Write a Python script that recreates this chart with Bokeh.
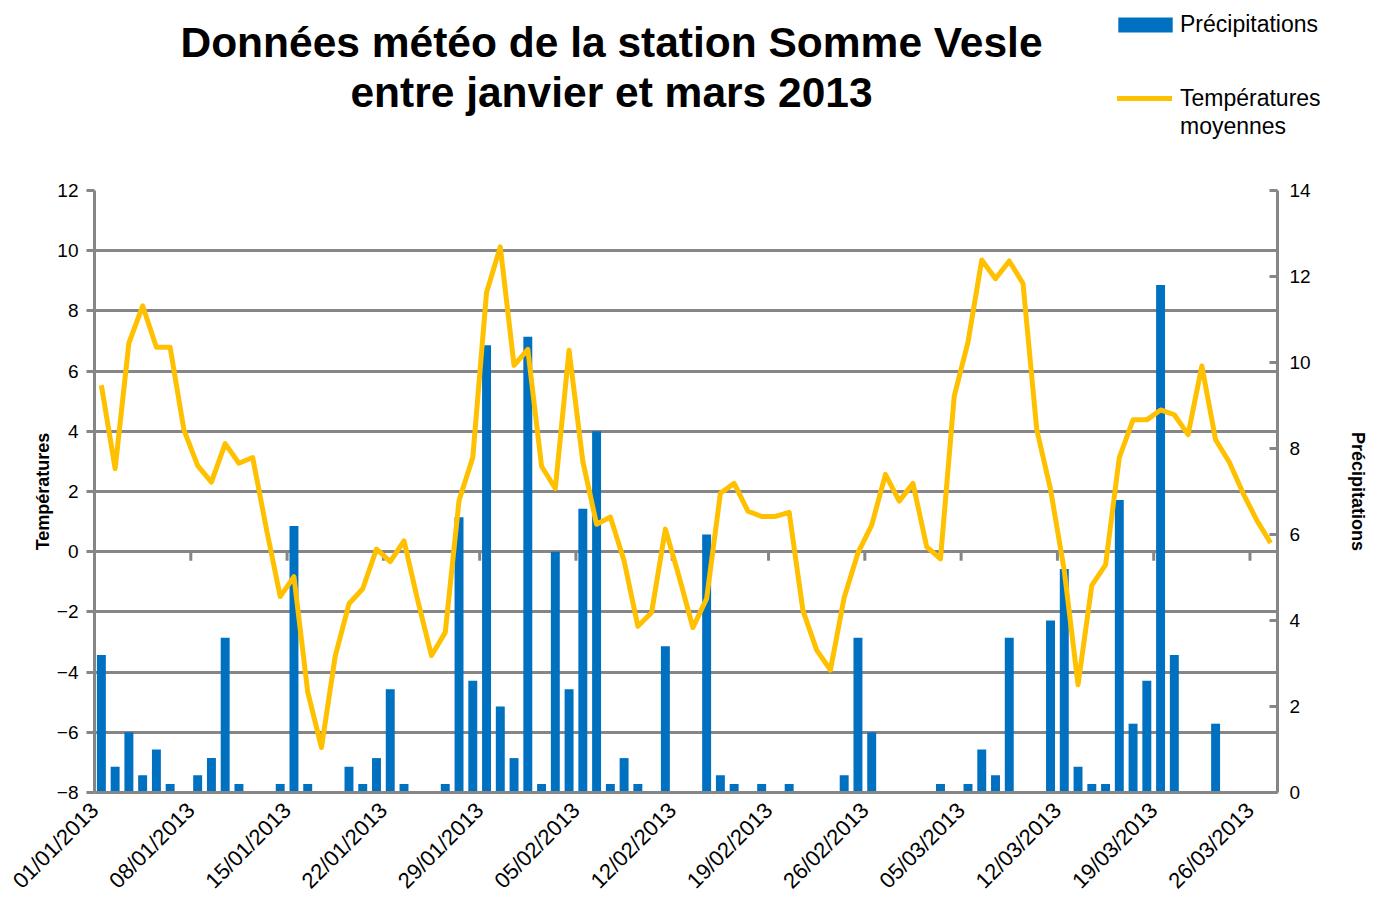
import numpy as np
from math import pi
from bokeh.plotting import figure
from bokeh.models import (Range1d, LinearAxis, FixedTicker, Legend, LegendItem, Label)
from bokeh.embed import file_html
from bokeh.resources import INLINE

# ---------------- data ----------------
title_lines = ["Données météo de la station Somme Vesle",
               "entre janvier et mars 2013"]

tick_labels = ["01/01/2013", "08/01/2013", "15/01/2013", "22/01/2013", "29/01/2013",
               "05/02/2013", "12/02/2013", "19/02/2013", "26/02/2013", "05/03/2013",
               "12/03/2013", "19/03/2013", "26/03/2013"]

# mean temperature per day, 01/01/2013 .. 27/03/2013 (left axis)
temperatures = [5.53, 2.76, 6.93, 8.17, 6.79, 6.79, 4.05, 2.86, 2.31, 3.59,
                2.94, 3.13, 0.75, -1.49, -0.83, -4.66, -6.51, -3.47, -1.73, -1.23,
                0.09, -0.33, 0.36, -1.62, -3.45, -2.68, 1.70, 3.13, 8.61, 10.13,
                6.19, 6.72, 2.84, 2.10, 6.69, 3.00, 0.91, 1.15, -0.30, -2.48,
                -2.02, 0.75, -0.83, -2.52, -1.56, 1.94, 2.27, 1.35, 1.17, 1.17,
                1.31, -1.95, -3.27, -3.93, -1.52, -0.04, 0.88, 2.57, 1.68, 2.27,
                0.16, -0.24, 5.17, 6.96, 9.69, 9.07, 9.66, 8.91, 4.05, 2.07,
                -0.63, -4.42, -1.12, -0.44, 3.13, 4.38, 4.38, 4.71, 4.55, 3.89,
                6.17, 3.72, 2.97, 1.94, 1.04, 0.29]

# daily precipitation (right axis)
precipitations = [3.2, 0.6, 1.4, 0.4, 1.0, 0.2, 0.0, 0.4, 0.8, 3.6,
                  0.2, 0.0, 0.0, 0.2, 6.2, 0.2, 0.0, 0.0, 0.6, 0.2,
                  0.8, 2.4, 0.2, 0.0, 0.0, 0.2, 6.4, 2.6, 10.4, 2.0,
                  0.8, 10.6, 0.2, 5.6, 2.4, 6.6, 8.4, 0.2, 0.8, 0.2,
                  0.0, 3.4, 0.0, 0.0, 6.0, 0.4, 0.2, 0.0, 0.2, 0.0,
                  0.2, 0.0, 0.0, 0.0, 0.4, 3.6, 1.4, 0.0, 0.0, 0.0,
                  0.0, 0.2, 0.0, 0.2, 1.0, 0.4, 3.6, 0.0, 0.0, 4.0,
                  5.2, 0.6, 0.2, 0.2, 6.8, 1.6, 2.6, 11.8, 3.2, 0.0,
                  0.0, 1.6, 0.0, 0.0, 0.0, 0.0]

temp_ticks = list(range(-8, 13, 2))
precip_ticks = list(range(0, 15, 2))
legend_labels = ["Précipitations", "Températures", "moyennes"]

# ---------------- styles ----------------
GREY = "#868686"
BLUE = "#0070C0"
GOLD = "#FFC000"
FONT = "Liberation Sans"
W = 1370
HEAD_H = 170
MAIN_H = 735

n = len(temperatures)
day_centres = np.arange(n) + 0.5
tick_pos = list(range(0, n, 7))

# ---------------- header: title + legend ----------------
head = figure(width=W, height=HEAD_H, output_backend="svg", toolbar_location=None,
              x_range=Range1d(0, W), y_range=Range1d(0, HEAD_H),
              x_axis_type=None, y_axis_type=None, min_border=0)
head.outline_line_color = None
head.grid.visible = False
head.background_fill_color = "white"
head.border_fill_color = "white"
# a range far away from the series values: the legend-key renderers below stay off screen
head.extra_y_ranges = {"keys": Range1d(1000, 1001)}

for txt, yy in zip(title_lines, [128, 78]):
    head.add_layout(Label(x=611, y=yy, text=txt, text_font=FONT,
                          text_font_size="42.5px", text_font_style="bold",
                          text_color="black", text_align="center",
                          text_baseline="middle"))

key_bar = head.vbar(x=day_centres, top=precipitations, width=0.65, fill_color=BLUE,
                    line_color=None, y_range_name="keys")
key_line = head.line(day_centres, temperatures, line_color=GOLD, line_width=5,
                     line_cap="round", y_range_name="keys")
key_blank = head.line(day_centres, temperatures, line_alpha=0, y_range_name="keys")

leg_common = dict(padding=0, margin=0, border_line_color=None, background_fill_alpha=0,
                  label_text_font=FONT, label_text_font_size="23px",
                  label_text_color="black", spacing=0)
leg1 = Legend(items=[LegendItem(label=legend_labels[0], renderers=[key_bar])],
              location=(1111, 132), glyph_width=68, glyph_height=19, label_height=19,
              label_standoff=1, **leg_common)
leg2 = Legend(items=[LegendItem(label=legend_labels[1], renderers=[key_line]),
                     LegendItem(label=legend_labels[2], renderers=[key_blank])],
              location=(1117, 30), glyph_width=55, glyph_height=28, label_height=28,
              label_standoff=8, **leg_common)
head.add_layout(leg1)
head.add_layout(leg2)

# ---------------- main chart ----------------
p = figure(width=W, height=MAIN_H, output_backend="svg", toolbar_location=None,
           x_range=Range1d(0, n), y_range=Range1d(temp_ticks[0], temp_ticks[-1]),
           min_border_left=94, min_border_right=89, min_border_top=20,
           min_border_bottom=113)
p.extra_y_ranges = {"precip": Range1d(precip_ticks[0], precip_ticks[-1])}
p.outline_line_color = None
p.background_fill_color = "white"
p.border_fill_color = "white"

p.xgrid.visible = False
yt = FixedTicker(ticks=temp_ticks)
p.ygrid.ticker = yt
p.ygrid.grid_line_color = GREY
p.ygrid.grid_line_width = 3

yl = p.yaxis[0]
yl.ticker = yt
yl.axis_line_color = GREY
yl.axis_line_width = 3
yl.major_tick_line_color = GREY
yl.major_tick_line_width = 3
yl.major_tick_out = 8
yl.major_tick_in = 0
yl.minor_tick_line_color = None
yl.major_label_text_font = FONT
yl.major_label_text_font_size = "19px"
yl.major_label_text_color = "black"
yl.major_label_standoff = 8
yl.axis_label = "Températures"
yl.axis_label_text_font = FONT
yl.axis_label_text_font_style = "bold"
yl.axis_label_text_font_size = "18px"
yl.axis_label_text_color = "black"
yl.axis_label_standoff = 1

yr = LinearAxis(y_range_name="precip", ticker=FixedTicker(ticks=precip_ticks),
                axis_label="Précipitations")
yr.axis_line_color = GREY
yr.axis_line_width = 3
yr.major_tick_line_color = GREY
yr.major_tick_line_width = 3
yr.major_tick_out = 0
yr.major_tick_in = 8
yr.minor_tick_line_color = None
yr.major_label_text_font = FONT
yr.major_label_text_font_size = "19px"
yr.major_label_text_color = "black"
yr.major_label_standoff = 12
yr.axis_label_text_font = FONT
yr.axis_label_text_font_style = "bold"
yr.axis_label_text_font_size = "18px"
yr.axis_label_text_color = "black"
yr.axis_label_standoff = 34
p.add_layout(yr, "right")

xa = p.xaxis[0]
xa.ticker = FixedTicker(ticks=tick_pos)
xa.major_label_overrides = {t: lab for t, lab in zip(tick_pos, tick_labels)}
xa.major_label_orientation = pi / 4
xa.major_tick_line_color = None
xa.minor_tick_line_color = None
xa.axis_line_color = GREY
xa.axis_line_width = 3
xa.major_label_text_font = FONT
xa.major_label_text_font_size = "22px"
xa.major_label_text_color = "black"
xa.major_label_standoff = 8

# tick marks on the zero line (category axis crossing at 0)
p.segment(x0=tick_pos, y0=[0] * len(tick_pos), x1=tick_pos, y1=[-0.3] * len(tick_pos),
          line_color=GREY, line_width=3)

bars = p.vbar(x=day_centres, top=precipitations, bottom=0, width=0.65,
              fill_color=BLUE, line_color=None, y_range_name="precip")
line = p.line(day_centres, temperatures, line_color=GOLD, line_width=5,
              line_join="round")

open("out.html", "w").write(file_html([head, p], INLINE))
